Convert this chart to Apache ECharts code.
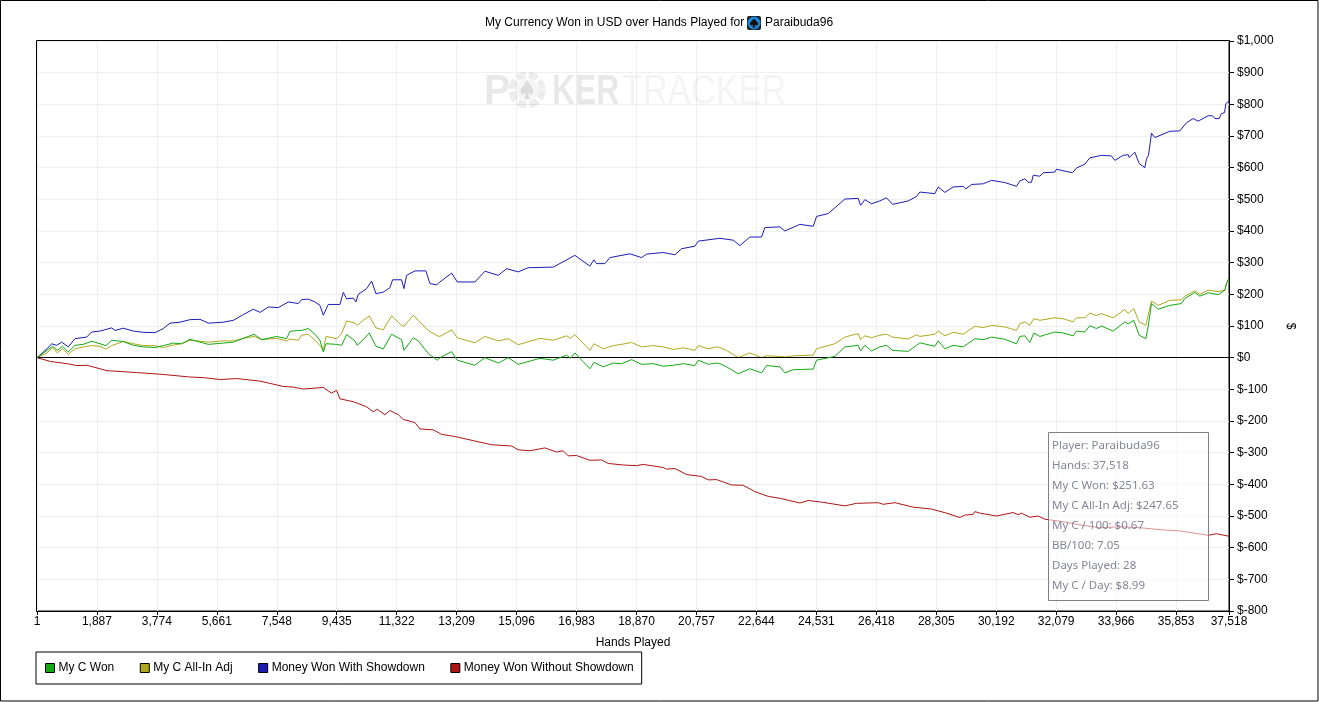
<!DOCTYPE html>
<html><head><meta charset="utf-8">
<style>html,body{margin:0;padding:0;background:#fff}#c{width:1319px;height:702px}</style>
<script src="https://cdn.jsdelivr.net/npm/echarts@6/dist/echarts.min.js"></script>
</head><body><div id="c"></div>
<script>
const titleText = 'My Currency Won in USD over Hands Played for';
const playerName = 'Paraibuda96';
const xTicks = [1,1887,3774,5661,7548,9435,11322,13209,15096,16983,18870,20757,22644,24531,26418,28305,30192,32079,33966,35853,37518];
const statLines = ['Player: Paraibuda96','Hands: 37,518','My C Won: $251.63','My C All-In Adj: $247.65','My C / 100: $0.67','BB/100: 7.05','Days Played: 28','My C / Day: $8.99'];

const blueHands = [1,316,463,620,777,987,1197,1564,1721,1984,2351,2456,2718,3033,3347,3715,3977,4187,4502,4816,5131,5393,5865,6180,6494,6809,7019,7281,7596,7910,8225,8330,8540,8750,8907,9012,9169,9536,9641,9746,9956,10040,10113,10375,10533,10669,10900,11110,11193,11476,11550,11634,11896,12242,12368,12578,12683,13050,13228,13784,14099,14519,14781,15148,15463,16250,16931,17403,17529,17613,17875,18033,18662,19029,19187,19711,20079,20288,20708,20813,21495,21914,22124,22439,22806,22911,23383,23540,24012,24432,24537,24904,25428,25848,25921,26058,26268,26529,26739,26928,27421,27683,27788,28260,28365,28575,28837,29152,29235,29414,29781,30043,30463,30830,30935,31092,31197,31302,31355,31564,31669,32036,32089,32592,32718,32980,33138,33505,33819,33925,34187,34344,34376,34554,34691,34869,34921,34984,35079,35184,35656,35970,36180,36390,36547,36862,36998,37072,37208,37282,37377,37419,37518];
const blueVals = [0,28,44,39,49,34,60,65,81,84,94,86,93,84,80,79,92,109,112,120,121,109,112,118,136,153,143,160,158,176,171,183,185,176,165,134,168,168,206,186,188,176,200,218,242,202,207,221,246,246,218,260,274,274,234,230,239,267,239,239,273,260,281,271,284,286,323,289,309,297,297,316,328,316,327,332,325,344,352,368,377,371,354,381,381,411,413,400,421,415,446,455,501,503,481,499,486,495,505,484,495,509,523,518,539,522,539,541,533,547,549,560,553,541,558,565,554,554,576,573,584,586,595,584,599,611,631,639,637,623,639,641,632,649,613,600,628,639,709,695,715,716,742,755,747,764,764,755,755,771,774,802,811];

const adjHands = [1,316,493,640,808,987,1197,1459,1721,1984,2172,2351,2718,3033,3347,3715,3977,4291,4554,4816,5393,5865,6180,6494,6830,7071,7543,7858,7963,8225,8330,8540,8750,8907,9012,9096,9432,9589,9746,10008,10081,10270,10459,10669,10900,11162,11476,11550,11844,12002,12316,12600,12683,13050,13228,13784,14099,14519,14834,15148,15830,16250,16669,16795,16931,17403,17529,17823,18138,18400,18715,19029,19397,19711,20026,20341,20708,20813,21127,21390,21495,21704,22072,22439,22806,22963,23383,23540,23802,24432,24537,25114,25428,25848,25921,26058,26268,26529,26739,26928,27421,27683,27788,28260,28365,28575,28837,29152,29519,29781,30043,30463,30830,30935,31092,31250,31375,31564,32036,32298,32613,32718,32980,33138,33348,33505,33872,34239,34344,34522,34691,34900,34973,35079,35289,35656,36023,36128,36443,36600,36862,37177,37387,37439,37518];
const greenVals = [0,23,36,23,36,18,39,42,52,44,38,55,51,39,34,32,38,46,44,58,42,46,49,61,74,57,67,60,83,86,86,92,74,55,18,44,42,39,73,53,39,57,78,36,28,74,57,23,63,53,13,-8,0,19,-8,-24,0,-17,0,-21,-2,-8,8,-2,15,-35,-15,-29,-17,-19,-6,-21,-19,-27,-24,-19,-25,-8,-21,-17,-19,-29,-51,-35,-48,-25,-29,-48,-38,-36,-8,4,34,39,21,39,21,34,39,23,20,39,47,36,53,28,39,34,60,57,65,58,44,67,69,48,78,67,81,78,69,84,81,101,92,100,84,113,107,118,71,60,97,171,153,165,171,187,206,194,205,199,213,234,252];
const adjVals = [0,15,32,15,28,11,28,34,38,36,27,38,51,44,38,38,32,40,44,55,49,53,53,61,67,57,61,53,59,55,71,74,55,38,25,67,60,76,116,109,102,118,132,94,88,132,102,99,134,118,86,69,67,88,63,47,67,53,60,41,61,55,69,61,73,23,44,28,38,42,48,34,38,34,26,31,23,38,28,34,32,23,0,15,0,6,4,2,6,8,28,44,65,76,57,69,63,71,74,65,59,72,67,74,84,69,80,74,99,95,102,97,86,107,113,102,123,118,126,123,113,126,126,141,133,139,126,152,139,155,113,102,134,179,165,181,183,194,211,200,213,209,213,234,248];

const redHands = [1,420,944,1260,1574,2204,3130,3970,4800,5240,5765,6290,7020,7755,8070,8385,9010,9270,9430,9535,9955,10374,10584,10710,10951,11109,11371,11528,11895,12053,12472,12734,13154,13731,14308,14937,15147,15514,15986,16354,16563,16721,16983,17403,17770,17979,18451,18871,19081,19710,19815,20077,20445,20917,21126,21389,21861,22228,22595,23015,23382,24011,24274,24746,25428,25795,26477,26634,27001,27578,28155,28627,29047,29204,29466,29519,29676,30201,30725,30882,30987,31250,31512,31722,32299,32823,33452,34082,34711,35446,35970,36862,37124,37518];
const redVals = [0,-12,-19,-25,-24,-41,-47,-53,-61,-63,-69,-66,-74,-91,-93,-99,-94,-112,-103,-130,-139,-155,-171,-163,-180,-167,-180,-195,-205,-225,-228,-242,-249,-262,-275,-279,-291,-294,-285,-298,-294,-310,-309,-324,-323,-334,-339,-341,-337,-347,-352,-350,-369,-375,-386,-385,-402,-403,-423,-438,-444,-459,-451,-457,-468,-460,-458,-463,-458,-472,-478,-491,-505,-497,-495,-486,-491,-500,-489,-496,-491,-504,-500,-510,-518,-528,-537,-534,-537,-544,-547,-561,-556,-564];

const zip = (a,b)=>a.map((h,i)=>[h,b[i]]);
const fontFam = '"Liberation Sans", Arial, sans-serif';
const axisFont = {fontFamily:fontFam,fontSize:12,color:'#000'};
const spadeShape = [[.5,0],[.72,.25],[.95,.5],[.95,.68],[.78,.78],[.58,.7],[.68,1],[.32,1],[.42,.7],[.22,.78],[.05,.68],[.05,.5],[.28,.25]];
const spadeAt = (x,y,w,h)=>spadeShape.map(p=>[x+p[0]*w,y+p[1]*h]);
const lineSeries = (name,hands,vals,color,z,extra)=>Object.assign({
  name,type:'line',data:zip(hands,vals),showSymbol:false,z,
  itemStyle:{color},lineStyle:{color,width:1},animation:false,silent:true
},extra||{});

const chart = echarts.init(document.getElementById('c'),null,{renderer:'canvas'});
const statTexts = statLines.map((t,i)=>({type:'text',x:1052,y:440+i*20,z:101,
  style:{text:t,font:'11.5px "Noto Sans", sans-serif',fill:'#85859a',textVerticalAlign:'top'}}));
chart.setOption({
  animation:false,
  backgroundColor:'#fff',
  title:{text:titleText,left:485,top:17,padding:0,textStyle:{fontFamily:fontFam,fontSize:12,fontWeight:'normal',color:'#000'}},
  grid:{left:37,right:90,top:41,bottom:91,show:true,borderColor:'#000',borderWidth:1,backgroundColor:'#fff'},
  legend:{left:36,top:652,padding:[10,8,10,9],itemGap:25.5,itemWidth:9,itemHeight:9,icon:'rect',
    borderColor:'#000',borderWidth:1,backgroundColor:'#fff',
    itemStyle:{borderColor:'#000',borderWidth:1},
    textStyle:{fontFamily:fontFam,fontSize:12,color:'#000',padding:[0,0,0,-1]},
    data:['My C Won','My C All-In Adj','Money Won With Showdown','Money Won Without Showdown']},
  xAxis:{type:'value',min:1,max:37518,name:'Hands Played',nameLocation:'middle',nameGap:26,
    nameTextStyle:axisFont,
    axisLine:{show:true,onZero:false,lineStyle:{color:'#000'}},
    axisTick:{show:true,length:4,lineStyle:{color:'#000'},customValues:xTicks},
    axisLabel:Object.assign({customValues:xTicks,margin:5,hideOverlap:false,showMinLabel:true,showMaxLabel:true,
      formatter:v=>v.toLocaleString('en-US')},axisFont),
    splitLine:{show:true,lineStyle:{color:'#efefef',width:1}}},
  yAxis:{type:'value',position:'right',min:-800,max:1000,interval:100,name:'$',nameLocation:'middle',nameGap:50,nameRotate:-90,
    nameTextStyle:axisFont,
    axisLine:{show:true,onZero:false,lineStyle:{color:'#000'}},
    axisTick:{show:true,length:5,lineStyle:{color:'#000'}},
    axisLabel:Object.assign({margin:8,showMinLabel:true,showMaxLabel:true,
      formatter:v=>v<0?'$-'+Math.abs(v):'$'+v.toLocaleString('en-US')},axisFont),
    splitLine:{show:true,lineStyle:{color:'#efefef',width:1}}},
  series:[
    lineSeries('My C Won',adjHands,greenVals,'#14a914',5,{markLine:{silent:true,symbol:'none',animation:false,label:{show:false},
      lineStyle:{color:'#000',width:1,type:'solid'},data:[{yAxis:0}]}}),
    lineSeries('My C All-In Adj',adjHands,adjVals,'#b0a81c',4),
    lineSeries('Money Won With Showdown',blueHands,blueVals,'#1c1cb4',4),
    lineSeries('Money Won Without Showdown',redHands,redVals,'#b01414',4)
  ],
  graphic:{elements:[
    {type:'rect',x:0.5,y:0.5,z:0,shape:{width:1317.5,height:700.5},style:{fill:'none',stroke:'#000',lineWidth:1},silent:true},
    {type:'rect',z:50,shape:{x:36.5,y:40.5,width:1193,height:571},style:{fill:'none',stroke:'#000',lineWidth:1},silent:true},
    // watermark
    {type:'text',x:484,y:71,z:1,scaleX:0.92,style:{text:'P',font:'bold 43px "Liberation Sans"',fill:'rgba(0,0,0,0.09)'}},
    {type:'circle',z:1,shape:{cx:527,cy:90,r:15},style:{fill:'none',stroke:'rgba(0,0,0,0.07)',lineWidth:7,lineDash:[9,3]}},
    {type:'circle',z:1,shape:{cx:527,cy:90,r:11},style:{fill:'rgba(0,0,0,0.04)'}},
    {type:'polygon',z:1,shape:{points:spadeAt(520,80,14,19)},style:{fill:'rgba(0,0,0,0.1)'}},
    {type:'text',x:552,y:71,z:1,scaleX:0.74,style:{text:'KER',font:'bold 43px "Liberation Sans"',fill:'rgba(0,0,0,0.09)'}},
    {type:'text',x:622,y:71,z:1,scaleX:0.8,style:{text:'TRACKER',font:'43px "Liberation Sans"',fill:'rgba(0,0,0,0.045)'}},
    // title icon and player
    {type:'rect',z:10,shape:{x:747,y:16,width:14,height:14,r:2},style:{fill:'#1a2026'}},
    {type:'circle',z:11,shape:{cx:754,cy:23,r:6.5},style:{fill:'#1f86d8'}},
    {type:'polygon',z:12,shape:{points:spadeAt(749.5,18.5,9,9)},style:{fill:'#111'}},
    {type:'text',x:765,y:17,z:10,style:{text:playerName,font:'12px "Liberation Sans"',fill:'#000'}},
    // stats box
    {type:'rect',z:100,shape:{x:1048.5,y:432.5,width:160,height:168},style:{fill:'rgba(255,255,255,0.55)',stroke:'#808080',lineWidth:1},silent:true}
  ].concat(statTexts)}
});
</script></body></html>
